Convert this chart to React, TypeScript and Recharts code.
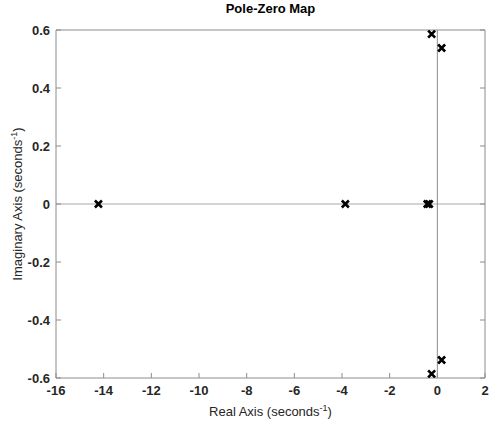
import { ScatterChart, Scatter, XAxis, YAxis, ReferenceLine, Label } from "recharts";

// pole locations (real, imaginary)
const poleRe = [-14.22, -3.86, -0.42, -0.34, -0.24, -0.24, 0.18, 0.18];
const poleIm = [0, 0, 0, 0, 0.586, -0.586, 0.538, -0.538];

const xTicks = [-16, -14, -12, -10, -8, -6, -4, -2, 0, 2];
const yTicks = [-0.6, -0.4, -0.2, 0, 0.2, 0.4, 0.6];

const FONT = "'Liberation Sans', Arial, Helvetica, sans-serif";
const AXIS = "#8c8c8c";
const TEXT = "#262626";
const TICK_LEN = 5;

const poles = poleRe.map((re, i) => ({ re, im: poleIm[i] }));

const fmt = (v: number) => (v === 0 ? "0" : String(Number(v.toFixed(1))));

// MATLAB style: ticks point into the box
function BottomTick({ x, y, payload }: any) {
  const ay = y - 8;
  return (
    <g>
      <line x1={x} x2={x} y1={ay} y2={ay - TICK_LEN} stroke={AXIS} />
      <text x={x} y={y} dy="0.71em" textAnchor="middle" fontFamily={FONT} fontSize={13} fontWeight="bold" fill={TEXT}>
        {fmt(payload.value)}
      </text>
    </g>
  );
}

function TopTick({ x, y }: any) {
  const ay = y + 2;
  return <line x1={x} x2={x} y1={ay} y2={ay + TICK_LEN} stroke={AXIS} />;
}

function LeftTick({ x, y, payload }: any) {
  const ax = x + 6;
  return (
    <g>
      <line x1={ax} x2={ax + TICK_LEN} y1={y} y2={y} stroke={AXIS} />
      <text x={x} y={y} dy="0.355em" textAnchor="end" fontFamily={FONT} fontSize={13} fontWeight="bold" fill={TEXT}>
        {fmt(payload.value)}
      </text>
    </g>
  );
}

function RightTick({ x, y }: any) {
  const ax = x - 2;
  return <line x1={ax} x2={ax - TICK_LEN} y1={y} y2={y} stroke={AXIS} />;
}

function Cross({ cx, cy }: any) {
  const r = 3.5;
  return (
    <path
      d={`M${cx - r},${cy - r}L${cx + r},${cy + r}M${cx + r},${cy - r}L${cx - r},${cy + r}`}
      stroke="#000"
      strokeWidth={2.6}
      fill="none"
    />
  );
}

function TitleLabel({ viewBox }: any) {
  return (
    <text x={viewBox.x + viewBox.width / 2} y={13} textAnchor="middle" fontFamily={FONT} fontSize={13} fontWeight="bold" fill="#000">
      Pole-Zero Map
    </text>
  );
}

function XLabel({ viewBox }: any) {
  return (
    <text x={viewBox.x + viewBox.width / 2} y={viewBox.y + 38} textAnchor="middle" fontFamily={FONT} fontSize={13} fill={TEXT}>
      <tspan>Real Axis (seconds</tspan>
      <tspan dy={-5} fontSize={9}>-1</tspan>
      <tspan dy={5}>)</tspan>
    </text>
  );
}

function YLabel({ viewBox }: any) {
  const cx = 22;
  const cy = viewBox.y + viewBox.height / 2;
  return (
    <text x={cx} y={cy} transform={`rotate(-90 ${cx} ${cy})`} textAnchor="middle" fontFamily={FONT} fontSize={13} fill={TEXT}>
      <tspan>Imaginary Axis (seconds</tspan>
      <tspan dy={-5} fontSize={9}>-1</tspan>
      <tspan dy={5}>)</tspan>
    </text>
  );
}

export default function App() {
  return (
    <div style={{ position: "absolute", left: 0, top: 0, background: "#fff" }}>
      <ScatterChart width={489} height={423} margin={{ top: 0, right: 0, bottom: 0, left: 0 }}>
        <XAxis
          xAxisId="b"
          dataKey="re"
          type="number"
          domain={[-16, 2]}
          ticks={xTicks}
          orientation="bottom"
          height={45}
          tickSize={0}
          tickMargin={8}
          tick={<BottomTick />}
          axisLine={{ stroke: AXIS }}
          interval={0}
          allowDataOverflow
        >
          <Label content={<XLabel />} />
        </XAxis>
        <XAxis
          xAxisId="t"
          type="number"
          domain={[-16, 2]}
          ticks={xTicks}
          orientation="top"
          height={30}
          tickSize={0}
          tickMargin={2}
          tick={<TopTick />}
          axisLine={{ stroke: AXIS }}
          interval={0}
          allowDataOverflow
        >
          <Label content={<TitleLabel />} />
        </XAxis>
        <YAxis
          yAxisId="l"
          dataKey="im"
          type="number"
          domain={[-0.6, 0.6]}
          ticks={yTicks}
          orientation="left"
          width={56}
          tickSize={0}
          tickMargin={6}
          tick={<LeftTick />}
          axisLine={{ stroke: AXIS }}
          interval={0}
          allowDataOverflow
        >
          <Label content={<YLabel />} />
        </YAxis>
        <YAxis
          yAxisId="r"
          type="number"
          domain={[-0.6, 0.6]}
          ticks={yTicks}
          orientation="right"
          width={4}
          tickSize={0}
          tickMargin={2}
          tick={<RightTick />}
          axisLine={{ stroke: AXIS }}
          interval={0}
          allowDataOverflow
        />
        <ReferenceLine xAxisId="b" yAxisId="l" y={0} stroke="#a8a8a8" strokeWidth={1.2} />
        <ReferenceLine xAxisId="b" yAxisId="l" x={0} stroke="#8c8c8c" strokeWidth={1} />
        <Scatter xAxisId="b" yAxisId="l" data={poles} shape={<Cross />} isAnimationActive={false} />
      </ScatterChart>
    </div>
  );
}
